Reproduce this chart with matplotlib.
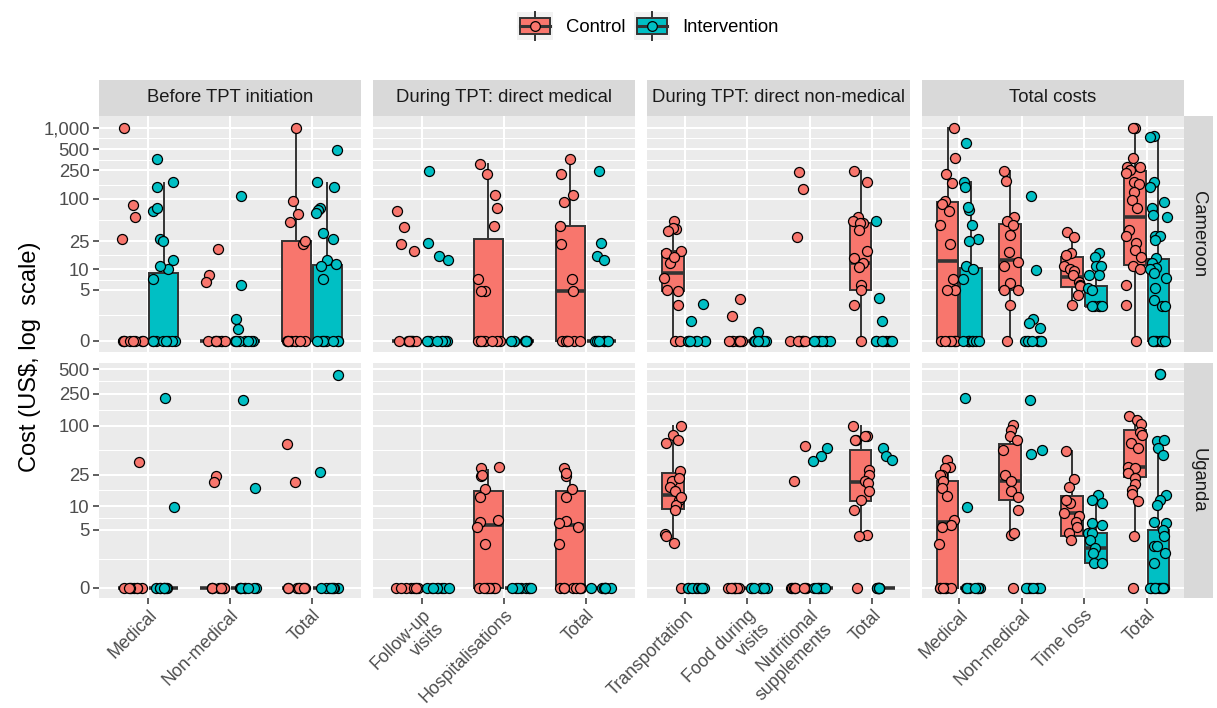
import numpy as np
import matplotlib
matplotlib.use("Agg")
import matplotlib.pyplot as plt
from matplotlib.patches import Rectangle, Patch
from matplotlib.lines import Line2D
from matplotlib.legend_handler import HandlerBase

# ---------------- data ----------------
panel_titles = ["Before TPT initiation", "During TPT: direct medical",
                "During TPT: direct non-medical", "Total costs"]
row_titles = ["Cameroon", "Uganda"]
cat_before = ["Medical", "Non-medical", "Total"]
cat_dmed = ["Follow-up\nvisits", "Hospitalisations", "Total"]
cat_dnon = ["Transportation", "Food during\nvisits", "Nutritional\nsupplements", "Total"]
cat_total = ["Medical", "Non-medical", "Time loss", "Total"]
arms = ["Control", "Intervention"]

# individual costs (US$) per category -- Cameroon
cam_before_ctrl_pts = [
    [980, 82, 55, 27, 0, 0, 0, 0, 0, 0, 0, 0],
    [19.5, 8.2, 6.5, 0, 0, 0, 0, 0, 0, 0, 0],
    [980, 92, 61, 47, 23, 25.7, 0, 0, 0, 0, 0, 0, 0, 0],
]
cam_before_int_pts = [
    [366, 172, 145, 68, 74, 27, 25, 13.7, 10.2, 11, 7.2, 0, 0, 0, 0, 0, 0, 0, 0],
    [109, 6.0, 1.5, 0.75, 0, 0, 0, 0, 0, 0, 0, 0],
    [480, 172, 145, 74, 70, 62, 33, 27, 13.4, 11.8, 11, 7.2, 0, 0, 0, 0, 0, 0, 0, 0],
]
cam_dmed_ctrl_pts = [
    [67, 40, 23, 18.3, 0, 0, 0, 0, 0, 0, 0, 0],
    [308, 225, 112, 74, 41, 7.2, 4.8, 4.8, 0, 0, 0, 0, 0, 0, 0, 0],
    [366, 225, 112, 91, 41, 23, 7.2, 4.8, 0, 0, 0, 0, 0, 0, 0],
]
cam_dmed_int_pts = [
    [248, 24, 15.5, 13.4, 0, 0, 0, 0, 0, 0, 0, 0],
    [0, 0, 0, 0, 0, 0, 0, 0],
    [248, 24, 15.5, 13.4, 0, 0, 0, 0, 0, 0, 0, 0],
]
cam_dnon_ctrl_pts = [
    [49, 37, 38, 35, 18, 17, 12.3, 15, 7.5, 5.0, 4.8, 2.9, 0, 0],
    [3.6, 1.8, 0, 0, 0, 0, 0, 0, 0, 0],
    [238, 135, 29, 0, 0, 0, 0, 0, 0, 0, 0],
    [246, 174, 56, 49, 46, 45, 36, 18, 14.5, 12.3, 10.8, 6, 5, 2.9, 0],
]
cam_dnon_int_pts = [
    [3.0, 1.4, 0, 0, 0, 0, 0, 0, 0, 0],
    [0.6, 0, 0, 0, 0, 0, 0, 0, 0],
    [0, 0, 0, 0, 0, 0, 0, 0],
    [49, 3.7, 1.4, 0, 0, 0, 0, 0, 0, 0, 0],
]
cam_total_ctrl_pts = [
    [980, 370, 225, 166, 93, 83, 67, 43, 23, 7.2, 5, 5, 0, 0, 0, 0, 0, 0, 0],
    [246, 178, 56, 49, 43, 31, 17.5, 12.7, 11, 6.3, 5, 5, 2.9, 0],
    [34, 29, 17, 16, 11, 10, 9.6, 8.3, 6.6, 6, 5.7, 4.1, 2.9],
    [1000, 1000, 380, 282, 282, 250, 228, 174, 162, 126, 96, 73, 36, 30, 24, 19, 15, 11, 10, 6, 2.9, 0],
]
cam_total_int_pts = [
    [615, 174, 145, 69, 76, 43, 27, 25, 11, 10, 7.2, 0, 0, 0, 0, 0, 0, 0, 0],
    [109, 9.7, 1.5, 1.2, 0.84, 0, 0, 0, 0, 0, 0, 0, 0],
    [17, 15, 11, 11, 8.3, 8.3, 5.3, 5, 2.7, 2.7, 2.7, 2.7, 2.7],
    [760, 733, 174, 148, 91, 73, 56, 59, 30, 30, 26, 14.5, 12.3, 10.4, 10, 8.8, 7.5, 5.3, 3.5, 2.7, 2.7,
     0, 0, 0, 0, 0, 0, 0, 0, 0, 0],
]

# individual costs (US$) per category -- Uganda
uga_before_ctrl_pts = [
    [36, 0, 0, 0, 0, 0, 0, 0, 0],
    [24, 20.4, 0, 0, 0, 0, 0, 0, 0, 0],
    [60, 20.4, 0, 0, 0, 0, 0, 0, 0, 0],
]
uga_before_int_pts = [
    [223, 9.9, 0, 0, 0, 0, 0, 0, 0, 0],
    [209, 17, 0, 0, 0, 0, 0, 0, 0, 0],
    [430, 26.7, 0, 0, 0, 0, 0, 0, 0, 0],
]
uga_dmed_ctrl_pts = [
    [0, 0, 0, 0, 0, 0, 0, 0],
    [31, 30, 24, 25, 16.3, 13, 6.4, 5.5, 6.8, 3.2, 0, 0, 0, 0, 0, 0, 0, 0],
    [30, 24, 26, 16.4, 13, 6.6, 5.5, 6.1, 3.2, 0, 0, 0, 0, 0, 0, 0, 0],
]
uga_dmed_int_pts = [
    [0, 0, 0, 0, 0, 0, 0, 0],
    [0, 0, 0, 0, 0, 0, 0, 0],
    [0, 0, 0, 0, 0, 0, 0, 0],
]
uga_dnon_ctrl_pts = [
    [100, 77, 66, 61, 28, 21, 22.5, 17.7, 15.4, 12, 10.5, 9, 13, 4.4, 4.1, 3.3, 0],
    [0, 0, 0, 0, 0, 0, 0, 0],
    [56, 21, 0, 0, 0, 0, 0, 0, 0, 0],
    [100, 75, 67, 67, 74, 28.5, 25, 21, 19.5, 15.4, 12, 9, 4.3, 4.1, 0],
]
uga_dnon_int_pts = [
    [0, 0, 0, 0, 0, 0, 0, 0],
    [0, 0, 0, 0, 0, 0, 0, 0],
    [53, 42, 37, 0, 0, 0, 0, 0, 0, 0, 0],
    [53, 42, 38, 0, 0, 0, 0, 0, 0, 0, 0],
]
uga_total_ctrl_pts = [
    [38, 31, 30, 25, 25, 21, 17, 13.6, 6.8, 5.8, 5.5, 3.2, 0, 0, 0, 0, 0, 0],
    [103, 89, 74, 67, 50, 25, 21, 15.4, 13, 9, 4.3, 4.5, 0],
    [49, 22, 17.7, 11.2, 12, 8.2, 7.5, 6.4, 5.5, 4.5, 3.6],
    [132, 118, 105, 85, 77, 61, 53, 31, 30, 26, 22.5, 19, 16, 14.4, 11.6, 4.1, 0],
]
uga_total_int_pts = [
    [223, 9.9, 0, 0, 0, 0, 0, 0, 0, 0],
    [209, 50, 45, 0, 0, 0, 0, 0, 0, 0, 0],
    [14, 12.2, 11, 6.1, 5.8, 4.5, 4.5, 3.6, 2.8, 2.3, 1.55, 1.55],
    [438, 438, 65, 67, 54, 44, 14, 12, 10.5, 6.3, 6.2, 5.0, 4.1, 3.0, 3.0, 2.3, 1.55,
     0, 0, 0, 0, 0, 0, 0, 0, 0, 0],
]

# box summaries (lower whisker, Q1, median, Q3, upper whisker) -- Cameroon
cam_before_ctrl_box = [(0, 0, 0, 0, 0), (0, 0, 0, 0, 0), (0, 0, 0, 25, 980)]
cam_before_int_box = [(0, 0, 0, 8.8, 168), (0, 0, 0, 0, 0), (0, 0, 0, 11.5, 168)]
cam_dmed_ctrl_box = [(0, 0, 0, 0, 0), (0, 0, 0, 27, 308), (0, 0, 4.8, 41, 366)]
cam_dmed_int_box = [(0, 0, 0, 0, 0), (0, 0, 0, 0, 0), (0, 0, 0, 0, 0)]
cam_dnon_ctrl_box = [(0, 4.8, 9, 18, 49), (0, 0, 0, 0, 0), (0, 0, 0, 0, 0), (0, 5, 12.5, 45, 246)]
cam_dnon_int_box = [(0, 0, 0, 0, 0), (0, 0, 0, 0, 0), (0, 0, 0, 0, 0), (0, 0, 0, 0, 0)]
cam_total_ctrl_box = [(0, 0, 13, 89, 980), (0, 5, 13.4, 44, 246), (2.9, 5.5, 7.8, 15, 34),
                      (0, 11.6, 56, 246, 1000)]
cam_total_int_box = [(0, 0, 0, 10.6, 174), (0, 0, 0, 0, 0), (2.7, 2.7, 2.7, 5.7, 17),
                     (0, 0, 0, 14, 760)]

# box summaries -- Uganda
uga_before_ctrl_box = [(0, 0, 0, 0, 0), (0, 0, 0, 0, 0), (0, 0, 0, 0, 0)]
uga_before_int_box = [(0, 0, 0, 0, 0), (0, 0, 0, 0, 0), (0, 0, 0, 0, 0)]
uga_dmed_ctrl_box = [(0, 0, 0, 0, 0), (0, 0, 5.8, 15.6, 28.5), (0, 0, 5.8, 15.6, 28.5)]
uga_dmed_int_box = [(0, 0, 0, 0, 0), (0, 0, 0, 0, 0), (0, 0, 0, 0, 0)]
uga_dnon_ctrl_box = [(3.3, 9.2, 14, 26.4, 100), (0, 0, 0, 0, 0), (0, 0, 0, 0, 0),
                     (4.1, 11.7, 20, 50, 100)]
uga_dnon_int_box = [(0, 0, 0, 0, 0), (0, 0, 0, 0, 0), (0, 0, 0, 0, 0), (0, 0, 0, 0, 0)]
uga_total_ctrl_box = [(0, 0, 6.3, 21, 38), (4.1, 11.9, 21, 59, 103), (3.6, 4.1, 8.2, 13.5, 49),
                      (4.1, 23.5, 31, 89, 132)]
uga_total_int_box = [(0, 0, 0, 0, 0), (0, 0, 0, 0, 0), (1.55, 1.55, 2.8, 4.6, 14), (0, 0, 0, 5, 44)]

y_breaks_cam = [0, 5, 10, 25, 100, 250, 500, 1000]
y_breaks_uga = [0, 5, 10, 25, 100, 250, 500]

# ---------------- styling ----------------
plt.rcParams["font.family"] = ["Liberation Sans", "DejaVu Sans"]
COL = {"Control": "#F8766D", "Intervention": "#00BFC4"}
EDGE = "#333333"
W, H = 1217, 708
fig = plt.figure(figsize=(W / 100, H / 100), dpi=100)


def fwd(x):
    return np.arcsinh(np.asarray(x, dtype=float) / 2.0) / np.log(10)


def inv(y):
    return 2.0 * np.sinh(np.asarray(y, dtype=float) * np.log(10))


def rect(x0, y0, x1, y1):
    return [x0 / W, 1 - y1 / H, (x1 - x0) / W, (y1 - y0) / H]


col_x = [(99, 361), (373, 635), (647, 910), (922, 1184)]
row_y = [(116, 352), (363, 598)]
row_ylim_t = [(-0.16, 3.165), (-0.127, 2.777)]
cats = [cat_before, cat_dmed, cat_dnon, cat_total]
data = {
    (0, 0): (cam_before_ctrl_pts, cam_before_int_pts, cam_before_ctrl_box, cam_before_int_box),
    (0, 1): (cam_dmed_ctrl_pts, cam_dmed_int_pts, cam_dmed_ctrl_box, cam_dmed_int_box),
    (0, 2): (cam_dnon_ctrl_pts, cam_dnon_int_pts, cam_dnon_ctrl_box, cam_dnon_int_box),
    (0, 3): (cam_total_ctrl_pts, cam_total_int_pts, cam_total_ctrl_box, cam_total_int_box),
    (1, 0): (uga_before_ctrl_pts, uga_before_int_pts, uga_before_ctrl_box, uga_before_int_box),
    (1, 1): (uga_dmed_ctrl_pts, uga_dmed_int_pts, uga_dmed_ctrl_box, uga_dmed_int_box),
    (1, 2): (uga_dnon_ctrl_pts, uga_dnon_int_pts, uga_dnon_ctrl_box, uga_dnon_int_box),
    (1, 3): (uga_total_ctrl_pts, uga_total_int_pts, uga_total_ctrl_box, uga_total_int_box),
}
breaks = [y_breaks_cam, y_breaks_uga]

rng = np.random.default_rng(11)
DODGE = 0.19
BOXW = 0.35

for r in range(2):
    for c in range(4):
        x0, x1 = col_x[c]
        y0, y1 = row_y[r]
        ax = fig.add_axes(rect(x0, y0, x1, y1))
        ax.set_facecolor("#EBEBEB")
        for s in ax.spines.values():
            s.set_visible(False)
        ax.set_yscale("function", functions=(fwd, inv))
        n = len(cats[c])
        ax.set_xlim(0.4, n + 0.6)
        lo, hi = row_ylim_t[r]
        ax.set_ylim(float(inv(lo)), float(inv(hi)))
        br = breaks[r]
        ax.set_yticks(br)
        tb = fwd(br)
        minors = [float(inv((tb[i] + tb[i + 1]) / 2)) for i in range(len(br) - 1)]
        ax.set_yticks(minors, minor=True)
        ax.set_xticks(np.arange(1, n + 1))
        ax.set_axisbelow(True)
        ax.grid(which="major", axis="both", color="white", lw=1.5)
        ax.grid(which="minor", axis="y", color="white", lw=0.75)
        ax.tick_params(which="minor", length=0)
        ax.tick_params(which="major", direction="out", length=4.2, width=1.1, color=EDGE,
                       labelsize=13.3, labelcolor="#4D4D4D", pad=2.5)
        ax.tick_params(axis="x", labelsize=12.8, pad=2.0)
        if c == 0:
            ax.set_yticklabels([f"{b:,}" for b in br])
        else:
            ax.tick_params(axis="y", left=False, labelleft=False)
        if r == 1:
            ax.set_xticklabels(cats[c], rotation=45, ha="right", va="top",
                               rotation_mode="anchor", multialignment="right")
        else:
            ax.tick_params(axis="x", bottom=False, labelbottom=False)

        ctrl_pts, int_pts, ctrl_box, int_box = data[(r, c)]
        for arm, pts_list, box_list, off in ((arms[0], ctrl_pts, ctrl_box, -DODGE),
                                             (arms[1], int_pts, int_box, DODGE)):
            for i in range(n):
                pos = i + 1 + off
                wl, q1, med, q3, wh = box_list[i]
                stats = [dict(whislo=wl, q1=q1, med=med, q3=q3, whishi=wh)]
                ax.bxp(stats, positions=[pos], widths=BOXW, patch_artist=True,
                       showfliers=False, showcaps=False, manage_ticks=False,
                       boxprops=dict(facecolor=COL[arm], edgecolor=EDGE, linewidth=1.4),
                       medianprops=dict(color=EDGE, linewidth=2.6, solid_capstyle="butt"),
                       whiskerprops=dict(color=EDGE, linewidth=1.4), zorder=2)
                vals = np.array(pts_list[i], dtype=float)
                jit = rng.uniform(-0.14, 0.14, len(vals))
                ax.scatter(pos + jit, vals, s=52, facecolor=COL[arm], edgecolor="black",
                           linewidths=0.9, zorder=3, clip_on=False)

# strips
for c in range(4):
    x0, x1 = col_x[c]
    sax = fig.add_axes(rect(x0, 80, x1, 116))
    sax.set_facecolor("#D9D9D9")
    sax.set_xticks([]); sax.set_yticks([])
    for s in sax.spines.values():
        s.set_visible(False)
    sax.text(0.5, 0.5, panel_titles[c], ha="center", va="center", fontsize=13.3,
             color="#1A1A1A", transform=sax.transAxes)
for r in range(2):
    y0, y1 = row_y[r]
    sax = fig.add_axes(rect(1184, y0, 1213, y1))
    sax.set_facecolor("#D9D9D9")
    sax.set_xticks([]); sax.set_yticks([])
    for s in sax.spines.values():
        s.set_visible(False)
    sax.text(0.5, 0.5, row_titles[r], ha="center", va="center", fontsize=13.3,
             color="#1A1A1A", rotation=-90, transform=sax.transAxes)

fig.text(30 / W, 1 - 357 / H, "Cost (US\\$, log  scale)", rotation=90, ha="center",
         va="center", fontsize=17, color="black")


class BoxKey(HandlerBase):
    def create_artists(self, legend, orig_handle, xdescent, ydescent, width, height,
                       fontsize, trans):
        color = orig_handle.get_facecolor()
        x0, y0 = -xdescent, -ydescent
        cx = x0 + width / 2
        bg = Rectangle((x0, y0), width, height, facecolor="#F2F2F2", edgecolor="none",
                       transform=trans)
        box = Rectangle((x0 + width * 0.08, y0 + height * 0.22), width * 0.84, height * 0.56,
                        facecolor=color, edgecolor=EDGE, lw=1.4, transform=trans)
        wl = Line2D([cx, cx], [y0 + height * 0.02, y0 + height * 0.22], color=EDGE, lw=1.4,
                    transform=trans)
        wu = Line2D([cx, cx], [y0 + height * 0.78, y0 + height * 0.98], color=EDGE, lw=1.4,
                    transform=trans)
        md = Line2D([x0 + width * 0.08, x0 + width * 0.92], [y0 + height * 0.5] * 2, color=EDGE,
                    lw=2.2, transform=trans)
        pt = Line2D([cx], [y0 + height * 0.5], marker="o", markersize=7, markerfacecolor=color,
                    markeredgecolor="black", markeredgewidth=0.9, lw=0, transform=trans)
        return [bg, box, wl, wu, md, pt]


handles = [Patch(facecolor=COL[a], label=a) for a in arms]
fig.legend(handles, arms, loc="center", bbox_to_anchor=(648 / W, 1 - 26 / H), ncol=2,
           frameon=False, fontsize=13.3, handlelength=1.95, handleheight=2.0,
           handletextpad=0.7, columnspacing=0.45, borderpad=0,
           handler_map={Patch: BoxKey()})

fig.savefig("out.png", dpi=100)
